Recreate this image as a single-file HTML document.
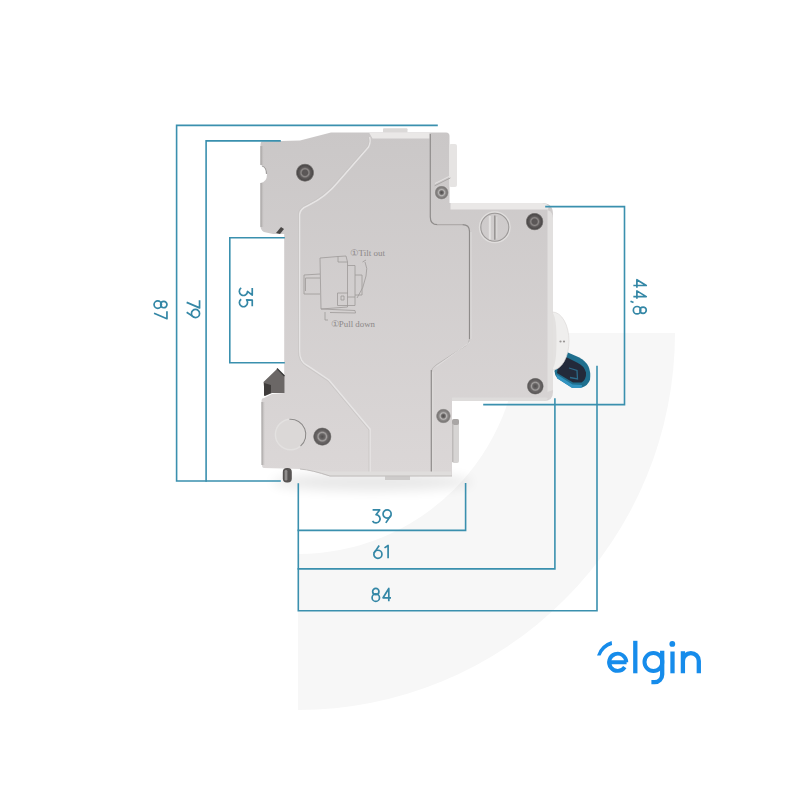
<!DOCTYPE html>
<html><head><meta charset="utf-8"><title>elgin DR</title>
<style>
html,body{margin:0;padding:0;background:#fff;}
body{width:800px;height:800px;overflow:hidden;}
svg{display:block;}
text{font-family:"Liberation Sans",sans-serif;}
</style></head>
<body>
<svg width="800" height="800" viewBox="0 0 800 800">
<defs>
  <filter id="blur6" x="-50%" y="-50%" width="200%" height="200%"><feGaussianBlur stdDeviation="6"/></filter>
  <filter id="blur1" x="-50%" y="-50%" width="200%" height="200%"><feGaussianBlur stdDeviation="0.6"/></filter>
  <radialGradient id="shadow" cx="0.5" cy="0.5" r="0.5">
    <stop offset="0" stop-color="#000" stop-opacity="0.10"/>
    <stop offset="1" stop-color="#000" stop-opacity="0"/>
  </radialGradient>
  <radialGradient id="screw" cx="0.5" cy="0.5" r="0.5">
    <stop offset="0" stop-color="#5c5858"/>
    <stop offset="0.28" stop-color="#5a5656"/>
    <stop offset="0.42" stop-color="#8f8b8a"/>
    <stop offset="0.58" stop-color="#5e5a5a"/>
    <stop offset="0.82" stop-color="#4c4949"/>
    <stop offset="0.93" stop-color="#8a8786"/>
    <stop offset="1" stop-color="#cfcccb"/>
  </radialGradient>
  <radialGradient id="screwL" cx="0.5" cy="0.5" r="0.5">
    <stop offset="0" stop-color="#4e4b4b"/>
    <stop offset="0.25" stop-color="#6f6c6b"/>
    <stop offset="0.42" stop-color="#b9b7b6"/>
    <stop offset="0.6" stop-color="#8a8786"/>
    <stop offset="0.8" stop-color="#7a7776"/>
    <stop offset="0.92" stop-color="#a5a2a1"/>
    <stop offset="1" stop-color="#d3d1d0"/>
  </radialGradient>
  <radialGradient id="screwM" cx="0.5" cy="0.5" r="0.5">
    <stop offset="0" stop-color="#524f4f"/>
    <stop offset="0.3" stop-color="#6a6767"/>
    <stop offset="0.45" stop-color="#a3a09f"/>
    <stop offset="0.6" stop-color="#6a6666"/>
    <stop offset="0.85" stop-color="#5c5959"/>
    <stop offset="0.94" stop-color="#959291"/>
    <stop offset="1" stop-color="#d0cdcc"/>
  </radialGradient>
  <linearGradient id="body" gradientUnits="userSpaceOnUse" x1="0" y1="130" x2="0" y2="476">
    <stop offset="0" stop-color="#cac7c7"/>
    <stop offset="1" stop-color="#dbd7d7"/>
  </linearGradient>
</defs>
<rect width="800" height="800" fill="#fff"/>
<!-- background quarter annulus -->
<path d="M298 333 L675 333 A377 377 0 0 1 298 710 Z M298 333" fill="#f7f7f7"/>
<path d="M298 333 L519 333 A221 221 0 0 1 298 554 Z" fill="#fff"/>

<!-- shadow under breaker -->
<ellipse cx="372" cy="482" rx="100" ry="9" fill="#000" opacity="0.09" filter="url(#blur6)"/>

<!-- ===== BREAKER ===== -->
<g id="breaker">
  <!-- main silhouette -->
  <path d="M262 141.6 L300 140.6 L331 132.5 L383 132.5 L383 132.5 L408 132.5 L408 132.5 L446 132.5 Q449.5 132.5 449.5 136 L449.5 203 L542 203 Q553 203 553 214 L553 392 Q553 401 544 401 L452 401 L452 476 L410 476 L410 480 L385 480 L385 476 L330 476 Q312 470 300 469 L264 468 Q262 468 262 465 L261.5 401 Q261.5 398 264 398 L272 394 L284.2 393 L284.2 234 L273 234 L264 232 Q260.5 230 260.5 226 L260.5 183 Q267 182 267 174 Q267 166 260.5 165 L260.5 144.5 Q260.5 141.6 262 141.6 Z" fill="url(#body)"/>
  <rect x="383" y="128.3" width="24.5" height="4.5" rx="1" fill="#dbd9d8"/>
  <!-- top light bevels -->
  <path d="M369 132.5 L429.5 132.5 L429.5 138.5 L372.5 138.5 Z" fill="#eae8e7"/>
  
  <path d="M450.5 203 L542 203 Q546 203 549 206 L548 209.5 L450.5 209.5 Z" fill="#eae8e7"/>
  <path d="M452 397.5 L546 397.5 Q549 397.5 547 399.5 Q545 401 543 401 L452 401 Z" fill="#dedcdb"/>
  <!-- right side light strip of right module -->
  <path d="M547.5 210 Q553 212 553 218 L553 390 L547.5 392 Z" fill="#e2e0df"/>
  <!-- upper right module lighter protrusion -->
  <rect x="449" y="144" width="8" height="43" rx="2" fill="#e6e4e3"/>
  <path d="M434.6 185.8 L450.4 177.9" stroke="#a9a6a5" stroke-width="1"/>
  <path d="M435 183.5 L450 176" stroke="#e4e2e1" stroke-width="1"/>
  <!-- lower right protrusion -->
  <rect x="452" y="419" width="7" height="44" rx="2" fill="#d6d4d3"/>
  <rect x="452" y="419" width="7" height="6" rx="2" fill="#a9a6a5"/>
  <rect x="452" y="424" width="1.5" height="38" fill="#bdbab9"/>

  <!-- left edges shadow -->
  <linearGradient id="edgeL" x1="0" y1="0" x2="1" y2="0"><stop offset="0" stop-color="#9e9b9a"/><stop offset="1" stop-color="#d3d0cf" stop-opacity="0"/></linearGradient>
  <rect x="260.5" y="146" width="4" height="19" fill="url(#edgeL)"/>
  <rect x="260.5" y="183" width="4" height="44" fill="url(#edgeL)"/>
  <path d="M262 166 Q266.5 167 266.5 174" stroke="#a3a09f" stroke-width="1.2" fill="none"/>
  <rect x="261.5" y="402" width="4" height="63" fill="url(#edgeL)"/>

  <!-- groove between center body and right modules -->
  <path d="M430.3 134 L430.3 217 Q430.3 224.7 437.5 224.7" stroke="#8f8c8b" stroke-width="1.2" fill="none"/>
  <path d="M437.5 224.7 L462.5 224.7" stroke="#aaa7a6" stroke-width="1.1" fill="none"/>
  <path d="M462.5 224.7 Q469.5 224.7 469.5 231.5 L469.5 339" stroke="#8f8c8b" stroke-width="1.2" fill="none"/>
  <path d="M471 232 L471 339" stroke="#dedcdb" stroke-width="1" fill="none"/>
  <path d="M469.5 339 Q469 343 466 345.5 L436 365 Q431.3 368 431.3 372" stroke="#bab7b6" stroke-width="0.9" fill="none"/>
  <path d="M470 342 L436.5 366.5" stroke="#e2e0df" stroke-width="0.8" fill="none"/>
  <path d="M431.3 370 L431.3 476" stroke="#8f8c8b" stroke-width="1.2" fill="none"/>
  <path d="M432.8 372 L432.8 476" stroke="#dedcdb" stroke-width="1" fill="none"/>
  <!-- right module left groove -->
  

  <!-- center panel outline (light) -->
  <path d="M369.5 137 Q371 142 368.5 147 L338.5 181.5 Q326 197 308 205.5 Q299.5 209 299.5 215 L299.5 350 Q299 362 308 366 L329 380 L370 429 L370 476" stroke="#e7e5e5" stroke-width="1.5" fill="none"/>
  <path d="M368.5 137 Q370 142 367.5 146.5 L337.5 180.5 Q325 196 307 204.5 Q298.5 208 298.5 214 L298.5 350 Q298 362 307 367 L328 381 L369 430 L369 476" stroke="#c6c3c2" stroke-width="0.7" fill="none"/>

  <!-- upper-left small clip -->
  <path d="M276 233 L281 227 L284 229 L280 234 Z" fill="#4a4746"/>
  <!-- lower-left DIN clip -->
  <path d="M263.5 382 L277 369 L284.5 376 L284.5 393 L272 393 L265 396 Z" fill="#6b6766"/>
  <path d="M277 368.5 L284.5 376" stroke="#333" stroke-width="1.2"/>
  <path d="M264 383 L264 396 L271 393 L271 385 Z" fill="#3f3c3b"/>

  <!-- pin -->
  <rect x="282.8" y="468" width="9" height="14.5" rx="4" fill="#575453"/>
  <rect x="284.6" y="470" width="2.8" height="10.5" rx="1.3" fill="#908d8c"/>

  <!-- bottom nub -->
  <rect x="385" y="476" width="25" height="4" fill="#cdcbca"/>
  <!-- bottom edge shade -->
  <path d="M306 469.5 Q318 470.5 330 471.5 L451 471.5 L451 476 L330 476.5 Q316 472 306 469.5 Z" fill="#dfdddc"/>
  <path d="M300 469 Q312 470 330 476 L452 476" stroke="#bfbcbb" stroke-width="1" fill="none"/>

  <!-- lower left faint circle -->
  <circle cx="290.7" cy="434.5" r="15.3" fill="#dbd8d7" stroke="#e3e1e0" stroke-width="1.4"/>
  <path d="M289.4 419.3 A15.3 15.3 0 0 1 300.5 446.2" fill="none" stroke="#8d8a89" stroke-width="1.1"/>

  <!-- test button -->
  <circle cx="494.8" cy="227.2" r="15.2" fill="none" stroke="#e0dedd" stroke-width="1.6"/>
  <circle cx="494.8" cy="227.2" r="14" fill="url(#body)" stroke="#9c9998" stroke-width="1.1"/>
  <path d="M489.8 216 L489.8 239.5" stroke="#e4e2e1" stroke-width="2"/>
  <path d="M494.8 215.5 L494.8 239.8" stroke="#8f8c8b" stroke-width="1.3"/>
  <path d="M496.8 217 L496.8 238.5" stroke="#dcdad9" stroke-width="1"/>

  <!-- screws -->
  <g>
    <circle cx="305" cy="172.7" r="9.4" fill="url(#screw)"/>
    <circle cx="441.6" cy="192.6" r="7.2" fill="url(#screwL)"/>
    <circle cx="534.6" cy="221.6" r="9.1" fill="url(#screw)"/>
    <circle cx="535.3" cy="386.2" r="8.6" fill="url(#screwM)"/>
    <circle cx="322.3" cy="436.6" r="9.4" fill="url(#screwM)"/>
    <circle cx="443.4" cy="416" r="7.6" fill="url(#screwL)"/>
  </g>

  <!-- blue lever -->
  <path d="M560 349 L578.75 357.25 Q586 361 588.5 366.5 Q591 372 590 379.75 Q588 385.5 582.1 387.6 L572 387.6 L557.4 378.6 Q554.5 375 554.6 371.3 L556 358 Z" fill="#1f6f8e"/>
  <path d="M560 354 L577 362.5 Q584.5 366 586 372.5 Q586.5 379.5 581.5 382.5 L573 382.5 L557 373 Z" fill="#232a3a"/>
  <path d="M569 368 L577 370.5 L577.5 379 L570 377.5" stroke="#2c6a89" stroke-width="1.3" fill="none"/>
  <path d="M556 374 L572.5 384.5 L582 385 L581.5 388 L572 388 L557.4 378.6 Z" fill="#3394c0"/>
  <!-- lever housing -->
  <path d="M552.5 312 A16.5 29 0 0 1 552.5 370 Z" fill="#efeeed" stroke="#dcdad9" stroke-width="0.7"/>
  <path d="M552.5 313 Q556.5 316 556.5 341 Q556.5 364 552.5 369 Z" fill="#e3e1e0"/>
  <circle cx="560.5" cy="341.5" r="1.1" fill="#9a9796"/>
  <circle cx="564" cy="341.5" r="1.1" fill="#9a9796"/>
  <!-- embossed diagram -->
  <g stroke="#9d9998" stroke-width="0.8" fill="none">
    <path d="M320 258 L338 256.5 L338 262 L347.5 262 L347.5 307 L321 309 Z"/>
    <path d="M338 256.5 L346 256 L347.5 262"/>
    <path d="M304 275 L320 274 M304 275 L304 294 L320 294 M305.5 278 L320 278 M305.5 278 L305.5 291"/>
    <path d="M347.5 265.5 L355 265.5 L355 297 L347.5 297"/>
    <path d="M355 275 L362 275 L362 295 L355 295"/>
    <path d="M337.5 293 L348 293 M337.5 293 L337.5 305.5 L355 305.5 L355 297"/>
    <path d="M341 296 L344 296 L344 300 L341 300 Z"/>
    <path d="M321 309 L355 310.5 L355.5 313 L330 312.5"/>
    <path d="M325 312 L325 320 L328 320"/>
    <path d="M365 262 Q368 268 366 276 Q364 288 357 298"/>
    <path d="M362.5 262 L366 260"/>
  </g>
  <text x="350" y="256" font-size="8.5" style="font-family:'Liberation Serif',serif" fill="#8c8888" textLength="35" lengthAdjust="spacingAndGlyphs">①Tilt out</text>
  <text x="330.5" y="327.3" font-size="8.5" style="font-family:'Liberation Serif',serif" fill="#8c8888" textLength="44.5" lengthAdjust="spacingAndGlyphs">①Pull down</text>
</g>

<!-- ===== DIMENSION LINES ===== -->
<g stroke="#3a90ae" stroke-width="1.6" fill="none" stroke-linecap="square">
  <!-- 87 -->
  <path d="M437 125.4 L176.6 125.4 L176.6 481 L280 481"/>
  <!-- 79 -->
  <path d="M280 140.9 L206.1 140.9 L206.1 481"/>
  <!-- 35 -->
  <path d="M284 237.8 L229.8 237.8 L229.8 362.8 L284 362.8"/>
  <!-- 44,8 -->
  <path d="M546 206.6 L624.5 206.6 L624.5 404.6 L484 404.6"/>
  <!-- 39 / 61 / 84 -->
  <path d="M298.3 484 L298.3 610.8 L597 610.8 L597 366.5"/>
  <path d="M298.3 530.4 L465.6 530.4 L465.6 483.7"/>
  <path d="M298.3 568.9 L554.9 568.9 L554.9 399"/>
</g>
<defs>
  <path id="g3" d="M1.2 0.85 H8.3 L4.6 5.6 A4.1 4.1 0 1 1 1.1 11.9"/>
  <g id="g9"><circle cx="4.6" cy="4.9" r="4.05"/><path d="M8.45 6.1 L3.3 13.75"/></g>
  <g id="g6"><circle cx="4.8" cy="9.7" r="4.05"/><path d="M6.1 0.85 L0.95 8.5"/></g>
  <path id="g1" d="M1.6 3.3 L5.2 0.85 V13.75"/>
  <g id="g8"><circle cx="4.7" cy="4.0" r="3.15"/><circle cx="4.7" cy="10.05" r="3.7"/></g>
  <path id="g4" d="M6.6 13.75 V0.85 L0.85 10.2 H8.8"/>
  <path id="g7" d="M0.85 0.85 H8.4 L2.9 13.75"/>
  <path id="g5" d="M8.1 0.85 H2.1 L1.7 6.5 Q3 5.55 4.7 5.55 A4.1 4.1 0 1 1 1.1 11.9"/>
  <path id="gc" d="M2.4 13.6 L1 16.6"/>
</defs>
<g fill="none" stroke="#3487a6" stroke-width="1.7" stroke-linejoin="round">
  <use href="#g3" x="371.4" y="509.1"/><use href="#g9" x="382.5" y="509.1"/>
  <use href="#g6" x="373.1" y="544.6"/><use href="#g1" x="382.9" y="544.6"/>
  <use href="#g8" x="371.1" y="587.6"/><use href="#g4" x="382.2" y="587.6"/>
  <g transform="translate(167.8 299.9) rotate(90)"><use href="#g8" x="0" y="0"/><use href="#g7" x="10.4" y="0"/></g>
  <g transform="translate(200.4 299.5) rotate(90)"><use href="#g7" x="0" y="0"/><use href="#g9" x="9.4" y="0"/></g>
  <g transform="translate(253.1 286.8) rotate(90)"><use href="#g3" x="0" y="0"/><use href="#g5" x="11.3" y="0"/></g>
  <g transform="translate(647.1 278.9) rotate(90)"><use href="#g4" x="0" y="0"/><use href="#g4" x="11.1" y="0"/><use href="#gc" x="21.3" y="0"/><use href="#g8" x="26.6" y="0"/></g>
</g>

<!-- ===== elgin logo ===== -->
<g fill="none" stroke="#168ceb" stroke-width="4.3">
  <path d="M609 662.2 L626.6 662.2 M626.3 662.2 A8.6 8.6 0 1 0 624.8 667.1" stroke-width="3.9"/>
  <path d="M635.3 640.8 L635.3 673.3"/>
  <circle cx="653.4" cy="662" r="8.9" stroke-width="4"/>
  <path d="M662.2 650.8 L662.2 674.6 A7.6 7.6 0 0 1 654.6 682.2 L651.4 682.2"/>
  <path d="M672.5 651.5 L672.5 673.3"/>
  <path d="M682.9 651.3 L682.9 673.3 M682.9 661 A7.95 7.95 0 0 1 698.8 661 L698.8 673.3"/>
</g>
<circle cx="672.3" cy="643.9" r="2.9" fill="#168ceb"/>
<path d="M597 655.5 A21.7 21.7 0 0 1 611.6 641 L612.1 645 A18.4 18.4 0 0 0 600.5 655.5 Z" fill="#168ceb"/>
</svg>
</body></html>
